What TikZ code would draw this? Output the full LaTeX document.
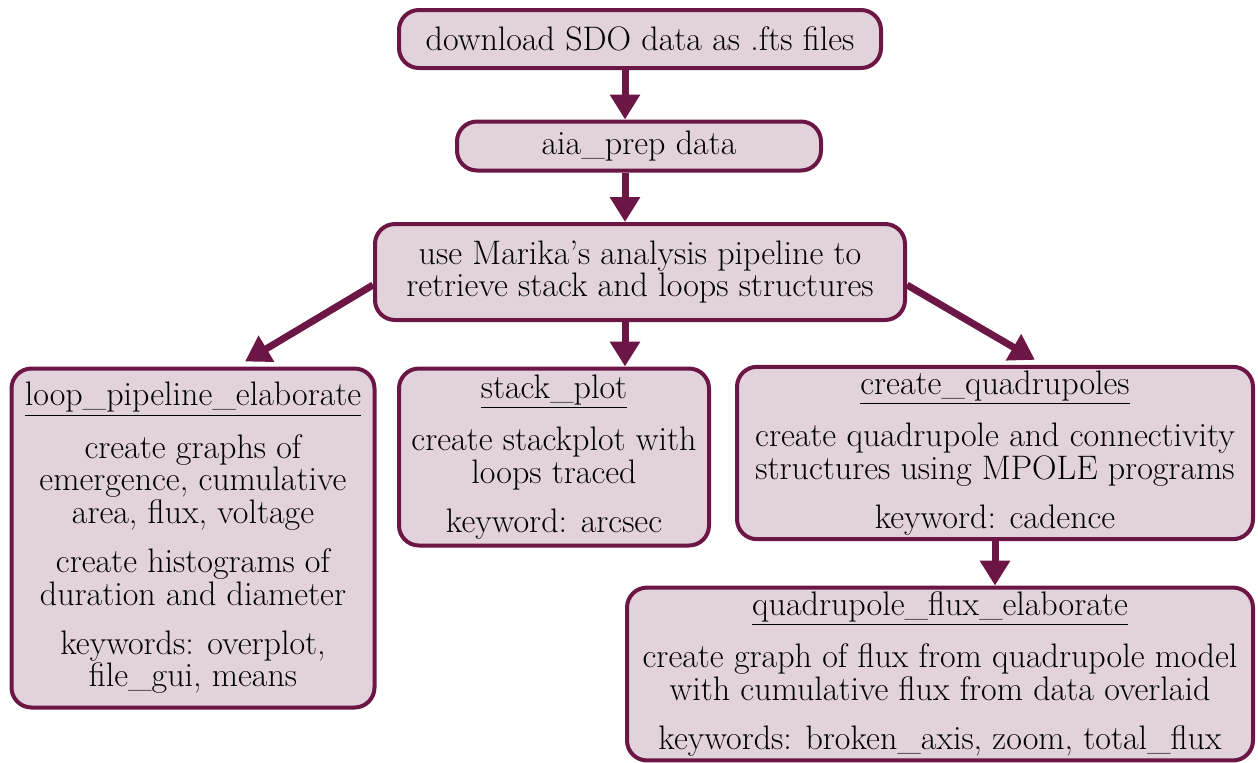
\documentclass[tikz,border=0pt]{standalone}
\usetikzlibrary{arrows.meta}
\definecolor{boxline}{RGB}{107,22,69}
\definecolor{boxfill}{RGB}{226,210,219}
\tikzset{
  box/.style={draw=boxline, fill=boxfill, line width=2pt, rounded corners=10pt,
    align=center, inner sep=2pt, font=\fontsize{17}{16.4}\selectfont},
  arr/.style={draw=boxline, line width=3.5pt,
    -{Triangle[width=14.5pt,length=12.5pt]}}
}

\begin{document}
\begin{tikzpicture}[x=0.5pt,y=-0.5pt]
\useasboundingbox (0,0) rectangle (1258,762);
\coordinate (spine) at (625,0);
\node[box, minimum width=241pt, minimum height=29pt] (dl) at (640,39) {download SDO data as .fts files};
\node[box, minimum width=182pt, minimum height=24.5pt] (prep) at (639,146) {aia\_prep data};
\node[box, minimum width=265pt, minimum height=48pt] (marika) at (640,272) {use Marika's analysis pipeline to\\retrieve stack and loops structures};
\node[box, minimum width=181.5pt, minimum height=169.5pt] (loop) at (193,538) {\underline{loop\_pipeline\_elaborate}\\[8pt]create graphs of\\emergence, cumulative\\area, flux, voltage\\[8pt]create histograms of\\duration and diameter\\[8pt]keywords: overplot,\\file\_gui, means};
\node[box, minimum width=155pt, minimum height=88.5pt] (stack) at (554,457) {\underline{stack\_plot}\\[8pt]create stackplot with\\loops traced\\[8pt]keyword: arcsec};
\node[box, minimum width=258pt, minimum height=84.5pt] (quad) at (995,453) {\underline{create\_quadrupoles}\\[8pt]create quadrupole and connectivity\\structures using MPOLE programs\\[8pt]keyword: cadence};
\node[box, minimum width=313pt, minimum height=84pt] (flux) at (940,674) {\underline{quadrupole\_flux\_elaborate}\\[8pt]create graph of flux from quadrupole model\\with cumulative flux from data overlaid\\[8pt]keywords: broken\_axis, zoom, total\_flux};
\draw[arr] (dl.south -| spine) -- (prep.north -| spine);
\draw[arr] (prep.south -| spine) -- (marika.north -| spine);
\draw[arr] (marika.south -| spine) -- (stack.north -| spine);
\draw[arr] ([yshift=-6.5pt]marika.west) -- ([xshift=26pt,yshift=2.5pt]loop.north);
\draw[arr] ([yshift=-6.5pt]marika.east) -- ([xshift=20pt,yshift=2.5pt]quad.north);
\draw[arr] (quad.south) -- (flux.north -| quad.south);
\end{tikzpicture}
\end{document}
